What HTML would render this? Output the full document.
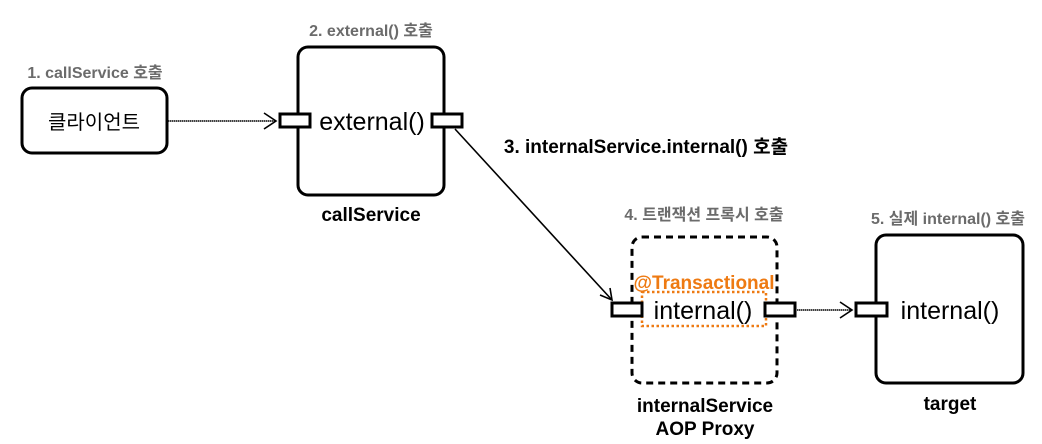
<!DOCTYPE html>
<html><head><meta charset="utf-8"><style>
html,body{margin:0;padding:0;background:#fff;}
svg{display:block;}
text{font-family:"Liberation Sans","Noto Sans CJK KR",sans-serif;}
.g{fill:#6b6b6b;font-weight:bold;font-size:16px;}
.b{fill:#000;font-weight:bold;font-size:19px;}
.n{fill:#000;font-size:25px;}
</style></head><body>
<svg width="1042" height="444" viewBox="0 0 1042 444" xmlns="http://www.w3.org/2000/svg">
<g fill="none" stroke="#000" stroke-width="3">
<rect x="22" y="88" width="145" height="65" rx="10"/>
<rect x="298" y="47" width="146" height="148" rx="10"/>
<rect x="632" y="237" width="145" height="146" rx="10" stroke-dasharray="7,5"/>
<rect x="876" y="235" width="147" height="148" rx="10"/>
</g>
<rect x="642" y="292" width="124" height="34" fill="none" stroke="#ee7a12" stroke-width="2.5" stroke-dasharray="2.5,2.5"/>
<g stroke="#000" stroke-width="1.6" fill="none">
<line x1="168" y1="121" x2="276" y2="121" stroke-dasharray="1.5,0.5"/>
<polyline points="264,113 276,121 264,129"/>
<line x1="455" y1="129" x2="612" y2="300"/>
<polyline points="600,295 612,300 610,288"/>
<line x1="797" y1="310" x2="852" y2="310" stroke-dasharray="1.5,0.5"/>
<polyline points="840,302 852,310 840,318"/>
</g>
<g fill="#fff" stroke="#000" stroke-width="3">
<rect x="280" y="114" width="30" height="13"/>
<rect x="432" y="114" width="30" height="13"/>
<rect x="612" y="303" width="30" height="13"/>
<rect x="765" y="303" width="30" height="13"/>
<rect x="856" y="303" width="31" height="13"/>
</g>
<text x="95" y="78" text-anchor="middle" class="g">1. callService 호출</text>
<text x="371" y="36" text-anchor="middle" class="g">2. external() 호출</text>
<text x="94" y="129" text-anchor="middle" style="font-size:20px">클라이언트</text>
<text x="372" y="130" text-anchor="middle" class="n">external()</text>
<text x="371" y="221" text-anchor="middle" class="b">callService</text>
<text x="646" y="153" text-anchor="middle" class="b">3. internalService.internal() 호출</text>
<text x="704" y="220" text-anchor="middle" class="g">4. 트랜잭션 프록시 호출</text>
<text x="948" y="224" text-anchor="middle" class="g">5. 실제 internal() 호출</text>
<text x="704" y="289" text-anchor="middle" style="fill:#ee7a12;font-weight:bold;font-size:19px">@Transactional</text>
<text x="703" y="319" text-anchor="middle" class="n">internal()</text>
<text x="950" y="319" text-anchor="middle" class="n">internal()</text>
<text x="950" y="410" text-anchor="middle" class="b">target</text>
<text x="705" y="412" text-anchor="middle" class="b">internalService</text>
<text x="705" y="435" text-anchor="middle" class="b">AOP Proxy</text>
</svg>
</body></html>
